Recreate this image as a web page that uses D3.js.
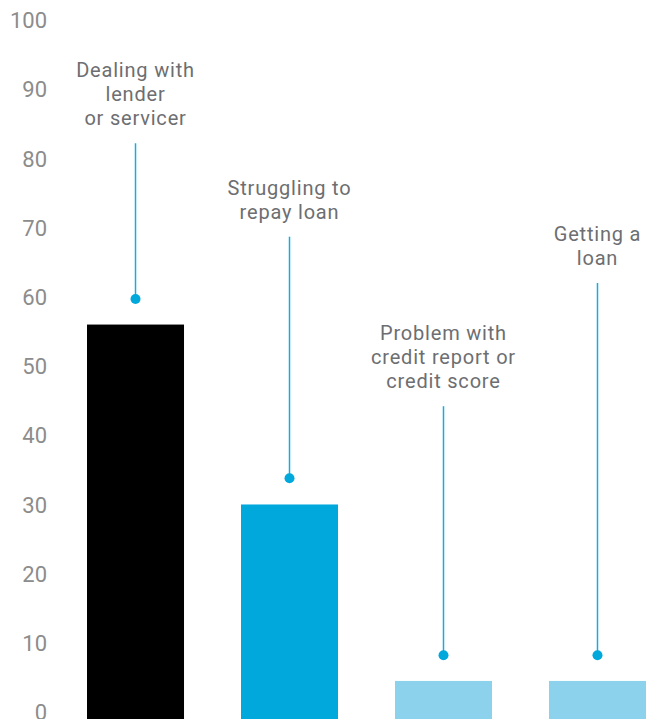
<!DOCTYPE html>
<meta charset="utf-8">
<script src="https://d3js.org/d3.v7.min.js"></script>
<style>
  body { margin: 0; background: #fff; }
  .tick text { fill: #8c8c8c; font: 22px Roboto, "Liberation Sans", sans-serif; }
  .label { fill: #6d6e71; font: 20px Roboto, "Liberation Sans", sans-serif; letter-spacing: 0.8px; }
</style>
<body>
<script>
  var categories = ['Dealing with lender or servicer', 'Struggling to repay loan',
                    'Problem with credit report or credit score', 'Getting a loan'];
  var labelLines = [['Dealing with', 'lender', 'or servicer'],
                    ['Struggling to', 'repay loan'],
                    ['Problem with', 'credit report or', 'credit score'],
                    ['Getting a', 'loan']];
  var values = [57, 31, 5.5, 5.5];
  var pinValues = [60.7, 34.8, 9.2, 9.2];
  var leaderTops = [83.2, 69.7, 45.2, 63];
  var colors = ['#000000', '#00a8dc', '#8dd2ec'];
  var barColors = [colors[0], colors[1], colors[2], colors[2]];
  var yTicks = [0, 10, 20, 30, 40, 50, 60, 70, 80, 90, 100];

  var width = 646, height = 719;

  var svg = d3.select('body').append('svg')
    .attr('width', width)
    .attr('height', height);

  var x = d3.scaleBand().domain(categories).range([87, 646])
    .paddingInner(0.37).paddingOuter(0);
  var y = d3.scaleLinear().domain([0, 100]).range([719, 27]);

  var axis = svg.append('g')
    .attr('transform', 'translate(47,0)')
    .call(d3.axisLeft(y).tickValues(yTicks).tickSize(0).tickPadding(0));
  axis.select('.domain').remove();
  axis.selectAll('.tick text').attr('dy', '0.35em').attr('y', -7);

  svg.selectAll('rect.bar').data(categories)
    .enter().append('rect')
    .attr('class', 'bar')
    .attr('x', function(d){ return x(d); })
    .attr('width', x.bandwidth())
    .attr('y', function(d, i){ return y(values[i]); })
    .attr('height', function(d, i){ return y(0) - y(values[i]); })
    .attr('fill', function(d, i){ return barColors[i]; });

  var cx = function(d){ return x(d) + x.bandwidth() / 2; };

  svg.selectAll('line.leader').data(categories)
    .enter().append('line')
    .attr('class', 'leader')
    .attr('x1', cx).attr('x2', cx)
    .attr('y1', function(d, i){ return y(leaderTops[i]); })
    .attr('y2', function(d, i){ return y(pinValues[i]); })
    .attr('stroke', '#12aee0')
    .attr('stroke-width', 1.5);

  svg.selectAll('circle.pin').data(categories)
    .enter().append('circle')
    .attr('class', 'pin')
    .attr('cx', cx)
    .attr('cy', function(d, i){ return y(pinValues[i]); })
    .attr('r', 5)
    .attr('fill', '#00a8dc');

  var labels = svg.selectAll('text.label').data(categories)
    .enter().append('text')
    .attr('class', 'label')
    .attr('text-anchor', 'middle');

  labels.each(function(d, i){
    var lines = labelLines[i];
    var lastY = y(leaderTops[i]) - 25;
    d3.select(this).selectAll('tspan').data(lines)
      .enter().append('tspan')
      .attr('x', cx(d))
      .attr('y', function(t, j){ return lastY - (lines.length - 1 - j) * 24; })
      .attr('dy', '0.35em')
      .text(function(t){ return t; });
  });
</script>
</body>
</html>
